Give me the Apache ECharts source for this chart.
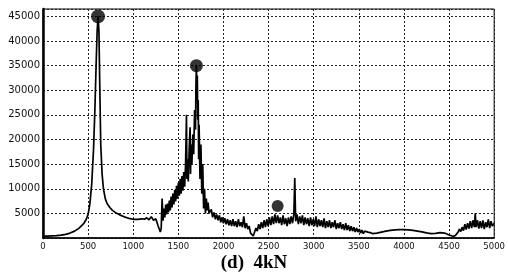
<!DOCTYPE html>
<html>
<head>
<meta charset="utf-8">
<script src="https://cdn.jsdelivr.net/npm/echarts@6/dist/echarts.min.js"></script>
<style>
html,body{margin:0;padding:0;background:#fff;}
#chart{width:508px;height:280px;}
</style>
</head>
<body>
<div id="chart"></div>
<script>
var freq = [0,50,100,150,200,250,300,350,400,450,480,500,520,540,560,575,590,600,610,620,630,640,655,670,690,710,740,770,800,850,900,950,1000,1050,1100,
1125,1150,1175,1200,1225,1250,1275,1300,1310,1320,
1330,1340,1350,1360,1370,1380,1390,1400,1410,1420,1430,1440,1450,1460,1470,1480,1490,1500,1510,1520,1530,1540,1550,1560,1570,1580,1590,1595,1600,1610,1620,1630,1635,1640,1650,1660,1670,1680,1690,1695,1700,1705,1710,1715,1720,1725,1730,1740,1750,1760,1770,1780,1790,1800,1810,1820,1830,1840,
1850,1865,1880,1895,1910,1925,1940,1955,1970,1985,2000,2015,2030,2045,2060,2075,2090,2105,2120,2135,2150,2165,2180,2195,2210,2225,2240,2255,2270,2285,2300,2315,2330,2345,2360,2375,2390,2405,2420,2435,2450,2465,2480,2495,
2510,2525,2540,2555,2570,2585,2600,2615,2630,2645,2660,2675,2690,2705,2720,2735,2750,2765,2780,2790,2800,2815,2830,2845,2860,2875,2890,2905,2920,2935,2950,2965,2980,2995,
3010,3025,3040,3055,3070,3085,3100,3115,3130,3145,3160,3175,3190,3205,3220,3235,3250,3265,3280,3295,3310,3325,3340,3355,3370,3385,3400,3415,3430,3445,3460,3475,3490,3505,3520,3535,3550,3565,3580,3600,3625,3650,3700,3750,3800,3850,3900,3950,
4000,4050,4100,4150,4200,4250,4300,4350,4400,4450,4500,4550,4575,
4600,4615,4630,4645,4660,4675,4690,4705,4720,4735,4750,4765,4780,4790,4800,4815,4830,4845,4860,4875,4890,4905,4920,4935,4950,4965,4980,5000];
var amplitude = [400,400,450,500,600,750,1000,1400,2000,2900,3800,4800,7000,11000,18000,26000,36000,42000,45000,42000,30000,19000,13000,10000,8000,7000,6200,5600,5200,4700,4300,4000,3800,3800,3900,
3800,4100,3700,4300,3600,3900,2500,1200,2000,8000,
3500,6000,4200,6800,4800,7000,5200,7600,5600,8400,6200,9000,6800,9800,7400,10600,8000,11200,8600,12000,9000,12600,9600,13400,10400,15000,25000,12000,16000,11500,18000,22500,13000,19000,15000,21000,17000,26000,22000,31000,35000,29000,33000,24000,28000,16000,23000,12000,19000,9000,15000,6000,10000,5000,8000,5600,7200,5000,
4600,5800,4200,5200,3800,4800,3600,4600,3200,4200,3000,4000,2800,3800,2600,3600,2400,3800,2400,3400,2200,3800,2400,3200,2200,4400,2000,3000,1800,2400,1000,600,400,1200,2000,1400,2800,1800,3200,2000,3600,2200,3800,2400,
4200,2600,4400,2800,4800,3000,4600,3000,4200,2600,4600,2800,4000,2400,4200,2800,4400,3000,4800,12200,3400,4800,2800,4400,3000,4600,2600,4200,2800,4000,2400,4200,2600,3800,
2400,4400,2200,3800,2400,3600,2200,4000,2000,3400,2200,3600,2000,3200,2200,3600,1800,3000,2000,3200,1800,2800,1600,3000,1600,2600,1400,2400,1400,2200,1200,2000,1200,1800,1000,1600,900,1400,1000,1200,1100,900,1000,1200,1400,1550,1650,1700,
1700,1650,1550,1400,1250,1050,900,950,1100,1000,600,300,600,
1200,1800,1300,2200,1500,2800,1700,3000,1900,3400,2000,3600,2200,5000,2200,3600,1900,3400,2000,3600,1800,3200,2200,3800,2000,3400,2400,3000];
var peakFreq = [610, 1700, 2600];
var peakAmp = [45000, 35000, 6500];
var xTicks = [0,500,1000,1500,2000,2500,3000,3500,4000,4500,5000];
var yTicks = [5000,10000,15000,20000,25000,30000,35000,40000,45000];
var caption = '(d)  4kN';

var lineData = freq.map(function(f,i){return [f, amplitude[i]];});
var peakData = peakFreq.map(function(f,i){return [f, peakAmp[i]];});
var peakSizes = [14,13,12];

var chart = echarts.init(document.getElementById('chart'), null, {renderer:'canvas'});
chart.setOption({
  animation:false,
  backgroundColor:'#fff',
  title:{text:caption,left:'center',top:249,textStyle:{fontFamily:'Liberation Serif',fontWeight:'bold',fontSize:19,color:'#000'}},
  grid:{left:43,right:4,top:9,bottom:42,show:true,borderColor:'#000',borderWidth:1},
  xAxis:{type:'value',min:0,max:5000,interval:500,
    axisLine:{show:true,onZero:false,lineStyle:{color:'#000',width:1.5}},
    axisTick:{show:false},
    axisLabel:{margin:4,fontFamily:'DejaVu Sans',fontSize:8.5,color:'#111',
      formatter:function(v){return xTicks.indexOf(v)>=0?String(v):'';}},
    splitLine:{show:true,lineStyle:{type:[2,2],color:'#222',width:1}}},
  yAxis:{type:'value',min:0,max:46500,interval:5000,
    axisLine:{show:true,onZero:false,lineStyle:{color:'#000',width:2.5}},
    axisTick:{show:false},
    axisLabel:{margin:3,fontFamily:'DejaVu Sans',fontSize:10,color:'#111',showMaxLabel:false,
      formatter:function(v){return yTicks.indexOf(v)>=0?String(v):'';}},
    splitLine:{show:true,lineStyle:{type:[2,2],color:'#222',width:1}}},
  series:[
    {type:'line',data:lineData,showSymbol:false,symbol:'none',lineStyle:{color:'#000',width:1.7},z:2},
    {type:'scatter',data:peakData,symbol:'circle',symbolSize:function(v,p){return peakSizes[p.dataIndex];},itemStyle:{color:'#000'},z:3}
  ]
});
</script>
</body>
</html>
